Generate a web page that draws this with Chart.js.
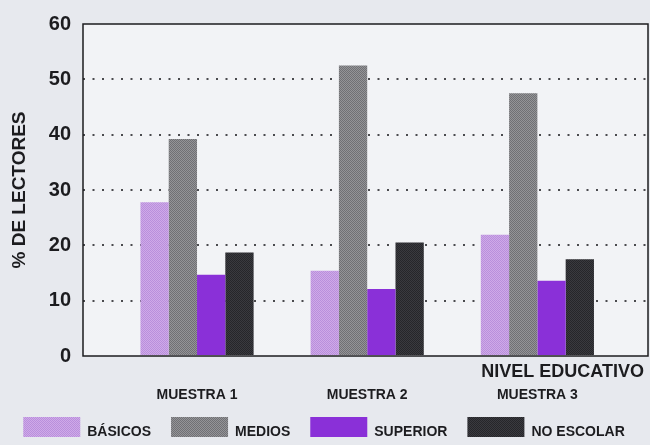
<!DOCTYPE html>
<html lang="es">
<head>
<meta charset="utf-8">
<title>% de lectores por nivel educativo</title>
<script src="https://cdn.jsdelivr.net/npm/chart.js@4.4.1/dist/chart.umd.min.js"></script>
<style>
  html, body { margin: 0; padding: 0; background: #e6e8ee; }
  #wrap { width: 650px; height: 445px; }
</style>
</head>
<body>
<div id="wrap"><canvas id="grafico"></canvas></div>
<script>
/* ======================================================
   DATOS
====================================================== */
const muestras = ["MUESTRA 1", "MUESTRA 2", "MUESTRA 3"];
const posiciones = [1, 2, 3];
const basicos = [27.8, 15.4, 21.9];
const medios = [39.2, 52.5, 47.5];
const superior = [14.7, 12.1, 13.6];
const noEscolar = [18.7, 20.5, 17.5];
const ticksY = [0, 10, 20, 30, 40, 50, 60];
const tituloX = "NIVEL EDUCATIVO";
const tituloY = "% DE LECTORES";

/* ======================================================
   TRAMAS
====================================================== */
function trama(fondo, punto) {
  const c = document.createElement("canvas");
  c.width = c.height = 2;
  const g = c.getContext("2d");
  g.fillStyle = fondo;
  g.fillRect(0, 0, 2, 2);
  g.fillStyle = punto;
  g.fillRect(0, 0, 1, 1);
  g.fillRect(1, 1, 1, 1);
  return g.createPattern(c, "repeat");
}

const COLORES = {
  basicos: trama("#cfaae8", "#b98fdc"),
  medios: trama("#949497", "#707074"),
  superior: "#8a30d8",
  noEscolar: trama("#3a3a3f", "#26262a")
};

const TEXTO = "#1c1c1f";
const FUENTE = "'Liberation Sans', Arial, sans-serif";
const SUBIR_LEYENDA = 8;

function serie(valores) {
  return posiciones.map((x, i) => ({ x, y: valores[i] }));
}

/* ======================================================
   FONDO, MARCO, TITULO X Y LEYENDA
====================================================== */
const marco = {
  id: "marco",
  afterLayout(chart) {
    // la leyenda queda pegada bajo las etiquetas de muestra
    chart.legend.top -= SUBIR_LEYENDA;
    chart.legend.bottom -= SUBIR_LEYENDA;
  },
  beforeDraw(chart) {
    const { ctx, chartArea: a, width, height } = chart;
    ctx.save();
    ctx.fillStyle = "#e7e9ee";
    ctx.fillRect(0, 0, width, height);
    ctx.fillStyle = "#f2f3f6";
    ctx.fillRect(a.left, a.top, a.right - a.left, a.bottom - a.top);
    ctx.restore();
  },
  afterDatasetsDraw(chart) {
    const { ctx, chartArea: a } = chart;
    ctx.save();
    ctx.strokeStyle = TEXTO;
    ctx.lineWidth = 1.5;
    ctx.strokeRect(a.left, a.top, a.right - a.left, a.bottom - a.top);
    ctx.font = "bold 18px " + FUENTE;
    ctx.fillStyle = TEXTO;
    ctx.textAlign = "right";
    ctx.textBaseline = "middle";
    ctx.fillText(tituloX, a.right - 4, a.bottom + 16);
    ctx.restore();
  }
};

/* ======================================================
   GRAFICO
====================================================== */
const comun = { borderWidth: 0, categoryPercentage: 0.665, barPercentage: 1 };

new Chart(document.getElementById("grafico"), {
  type: "bar",
  data: {
    datasets: [
      { label: "BÁSICOS", data: serie(basicos), backgroundColor: COLORES.basicos, ...comun },
      { label: "MEDIOS", data: serie(medios), backgroundColor: COLORES.medios, ...comun },
      { label: "SUPERIOR", data: serie(superior), backgroundColor: COLORES.superior, ...comun },
      { label: "NO ESCOLAR", data: serie(noEscolar), backgroundColor: COLORES.noEscolar, ...comun }
    ]
  },
  options: {
    responsive: true,
    maintainAspectRatio: false,
    animation: false,
    layout: { padding: { top: 20, right: 2, left: 0, bottom: 0 } },
    plugins: {
      legend: {
        position: "bottom",
        maxHeight: 40,
        labels: {
          boxWidth: 57,
          boxHeight: 30,
          padding: 20,
          color: TEXTO,
          font: { family: FUENTE, size: 14, weight: "bold" }
        }
      },
      tooltip: { enabled: false }
    },
    scales: {
      x: {
        type: "linear",
        min: 0.33,
        max: 3.65,
        offset: false,
        grid: { display: false, drawTicks: false },
        border: { display: false },
        afterBuildTicks: s => { s.ticks = posiciones.map(v => ({ value: v })); },
        afterFit: s => { s.height = 49; },
        ticks: {
          padding: 31,
          maxRotation: 0,
          autoSkip: false,
          color: TEXTO,
          font: { family: FUENTE, size: 14, weight: "bold" },
          callback: v => muestras[posiciones.indexOf(v)]
        }
      },
      y: {
        min: 0,
        max: 60,
        afterBuildTicks: s => { s.ticks = ticksY.map(v => ({ value: v })); },
        afterFit: s => { s.width = 83; },
        grid: {
          drawTicks: false,
          lineWidth: 2,
          color: c => (c.tick.value === 0 || c.tick.value === 60) ? "rgba(0,0,0,0)" : "#4a4a4e"
        },
        border: { display: false, dash: [2, 7.5] },
        ticks: {
          padding: 12,
          color: TEXTO,
          font: { family: FUENTE, size: 20, weight: "bold" }
        },
        title: {
          display: true,
          text: tituloY,
          color: TEXTO,
          padding: { top: 8, bottom: 0 },
          font: { family: FUENTE, size: 19, weight: "bold" }
        }
      }
    }
  },
  plugins: [marco]
});
</script>
</body>
</html>
